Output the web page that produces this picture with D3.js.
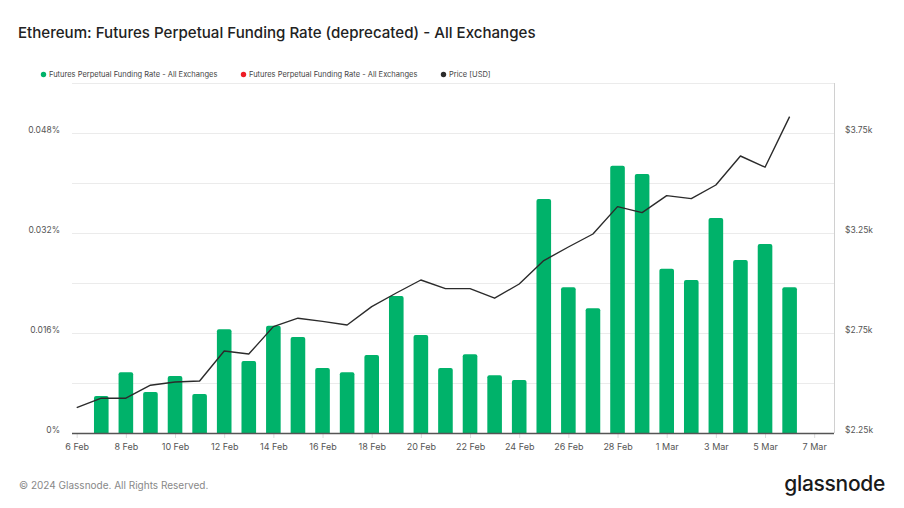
<!DOCTYPE html>
<html>
<head>
<meta charset="utf-8">
<script src="https://cdn.jsdelivr.net/npm/d3@7"></script>
<style>
  html, body { margin: 0; padding: 0; background: #fff; }
  svg { display: block; font-family: Inter, "Noto Sans", sans-serif; }
</style>
</head>
<body>
<svg id="chart" width="904" height="508"></svg>
<script>
// ---- data ----
const priceDates = ["2024-02-06","2024-02-07","2024-02-08","2024-02-09","2024-02-10","2024-02-11","2024-02-12","2024-02-13","2024-02-14","2024-02-15","2024-02-16","2024-02-17","2024-02-18","2024-02-19","2024-02-20","2024-02-21","2024-02-22","2024-02-23","2024-02-24","2024-02-25","2024-02-26","2024-02-27","2024-02-28","2024-02-29","2024-03-01","2024-03-02","2024-03-03","2024-03-04","2024-03-05","2024-03-06"];
const priceValues = [2377, 2424, 2424, 2489, 2505, 2510, 2660, 2645, 2782, 2824, 2808, 2790, 2882, 2950, 3015, 2972, 2972, 2924, 2995, 3112, 3180, 3245, 3382, 3352, 3437, 3422, 3490, 3635, 3579, 3832];
const fundingDates = priceDates.slice(1);
const fundingValues = [0.00592, 0.00971, 0.00656, 0.00912, 0.00624, 0.01659, 0.01152, 0.01717, 0.01536, 0.0104, 0.00971, 0.01248, 0.02192, 0.01568, 0.0104, 0.01259, 0.00923, 0.00848, 0.03744, 0.02331, 0.01995, 0.04277, 0.04144, 0.02629, 0.02448, 0.0344, 0.02768, 0.03024, 0.02331];
const xTickDates = ["2024-02-06","2024-02-08","2024-02-10","2024-02-12","2024-02-14","2024-02-16","2024-02-18","2024-02-20","2024-02-22","2024-02-24","2024-02-26","2024-02-28","2024-03-01","2024-03-03","2024-03-05","2024-03-07"];
const xTickLabels = ["6 Feb","8 Feb","10 Feb","12 Feb","14 Feb","16 Feb","18 Feb","20 Feb","22 Feb","24 Feb","26 Feb","28 Feb","1 Mar","3 Mar","5 Mar","7 Mar"];
const leftTicks = [0, 0.016, 0.032, 0.048];
const leftTickLabels = ["0%", "0.016%", "0.032%", "0.048%"];
const rightTicks = [2250, 2750, 3250, 3750];
const rightTickLabels = ["$2.25k", "$2.75k", "$3.25k", "$3.75k"];
const gridTicks = [0, 0.008, 0.016, 0.024, 0.032, 0.040, 0.048, 0.056];
const legendLabels = ["Futures Perpetual Funding Rate - All Exchanges", "Futures Perpetual Funding Rate - All Exchanges", "Price [USD]"];
const legendColors = ["#00b26a", "#ee1c25", "#2b2b2b"];

// ---- layout ----
const svg = d3.select("#chart");
const plotL = 72, plotR = 834, plotT = 83, plotB = 433;
const parse = d3.utcParse("%Y-%m-%d");

const x = d3.scaleUtc()
  .domain([parse("2024-02-06"), parse("2024-03-07")])
  .range([76.7, 814.2]);
const yL = d3.scaleLinear().domain([0, 0.056]).range([plotB, plotT]);
const yR = d3.scaleLinear().domain([2250, 4000]).range([plotB, plotT]);

// title
svg.append("text").attr("x", 18).attr("y", 38)
  .attr("font-size", 15.1).attr("fill", "#222").attr("font-weight", 500)
  .text("Ethereum: Futures Perpetual Funding Rate (deprecated) - All Exchanges");

// legend
const legX = [43.5, 243.5, 443.5];
legendLabels.forEach((t, i) => {
  svg.append("circle").attr("cx", legX[i]).attr("cy", 74.5).attr("r", 2.7).attr("fill", legendColors[i]);
  svg.append("text").attr("x", legX[i] + 5.5).attr("y", 77.2).attr("font-size", 7.5).attr("fill", "#444").text(t);
});

// gridlines
svg.append("g").selectAll("line").data(gridTicks.slice(1)).join("line")
  .attr("x1", plotL).attr("x2", plotR)
  .attr("y1", d => yL(d) + 0.5).attr("y2", d => yL(d) + 0.5)
  .attr("stroke", "#ebebeb").attr("stroke-width", 1);

// right axis vertical line
svg.append("line").attr("x1", plotR + 0.5).attr("x2", plotR + 0.5)
  .attr("y1", plotT).attr("y2", plotB).attr("stroke", "#d0d0d0");

// x ticks
const xTickG = svg.append("g").attr("transform", `translate(0,${plotB})`);
const xAxis = d3.axisBottom(x)
  .tickValues(xTickDates.map(parse))
  .tickFormat((d, i) => xTickLabels[i])
  .tickSize(5).tickPadding(6);
xTickG.call(xAxis);
xTickG.select(".domain").remove();
xTickG.selectAll(".tick line").attr("stroke", "#dcdcdc");
xTickG.selectAll(".tick text").attr("font-size", 9).attr("fill", "#555")
  .attr("font-family", "Inter, sans-serif");

// bars
const barW = 14.6;
svg.append("g").selectAll("path").data(fundingValues).join("path")
  .attr("fill", "#00b26a")
  .attr("d", (v, i) => {
    const cx = x(parse(fundingDates[i]));
    const x0 = cx - barW / 2, x1 = cx + barW / 2;
    const yt = yL(v), yb = yL(0), r = 2;
    return `M${x0},${yb}V${yt + r}Q${x0},${yt} ${x0 + r},${yt}H${x1 - r}Q${x1},${yt} ${x1},${yt + r}V${yb}Z`;
  });

// x axis baseline
svg.append("line").attr("x1", plotL).attr("x2", plotR)
  .attr("y1", plotB + 0.5).attr("y2", plotB + 0.5).attr("stroke", "#555").attr("stroke-width", 1.3);

// price line
const line = d3.line()
  .x((d, i) => x(parse(priceDates[i])))
  .y(d => yR(d));
svg.append("path").datum(priceValues).attr("d", line)
  .attr("fill", "none").attr("stroke", "#2b2b2b").attr("stroke-width", 1.4).attr("stroke-linejoin", "round");

// left axis labels
const leftG = svg.append("g").attr("transform", `translate(${60},0)`);
leftG.call(d3.axisLeft(yL).tickValues(leftTicks).tickFormat((d, i) => leftTickLabels[i]).tickSize(0).tickPadding(0));
leftG.select(".domain").remove();
leftG.selectAll(".tick text").attr("font-size", 8.5).attr("fill", "#555").attr("font-family", "Inter, sans-serif")
  .attr("dy", "-0.05em");

// right axis labels
const rightG = svg.append("g").attr("transform", `translate(${845},0)`);
rightG.call(d3.axisRight(yR).tickValues(rightTicks).tickFormat((d, i) => rightTickLabels[i]).tickSize(0).tickPadding(0));
rightG.select(".domain").remove();
rightG.selectAll(".tick text").attr("font-size", 8.5).attr("fill", "#555").attr("font-family", "Inter, sans-serif")
  .attr("dy", "-0.05em");

// footer
svg.append("text").attr("x", 19).attr("y", 489).attr("font-size", 10).attr("fill", "#888")
  .text("© 2024 Glassnode. All Rights Reserved.");
svg.append("text").attr("x", 885).attr("y", 491).attr("text-anchor", "end")
  .attr("font-size", 21).attr("font-weight", 500).attr("fill", "#1a1a1a").attr("letter-spacing", -0.3)
  .text("glassnode");
</script>
</body>
</html>
